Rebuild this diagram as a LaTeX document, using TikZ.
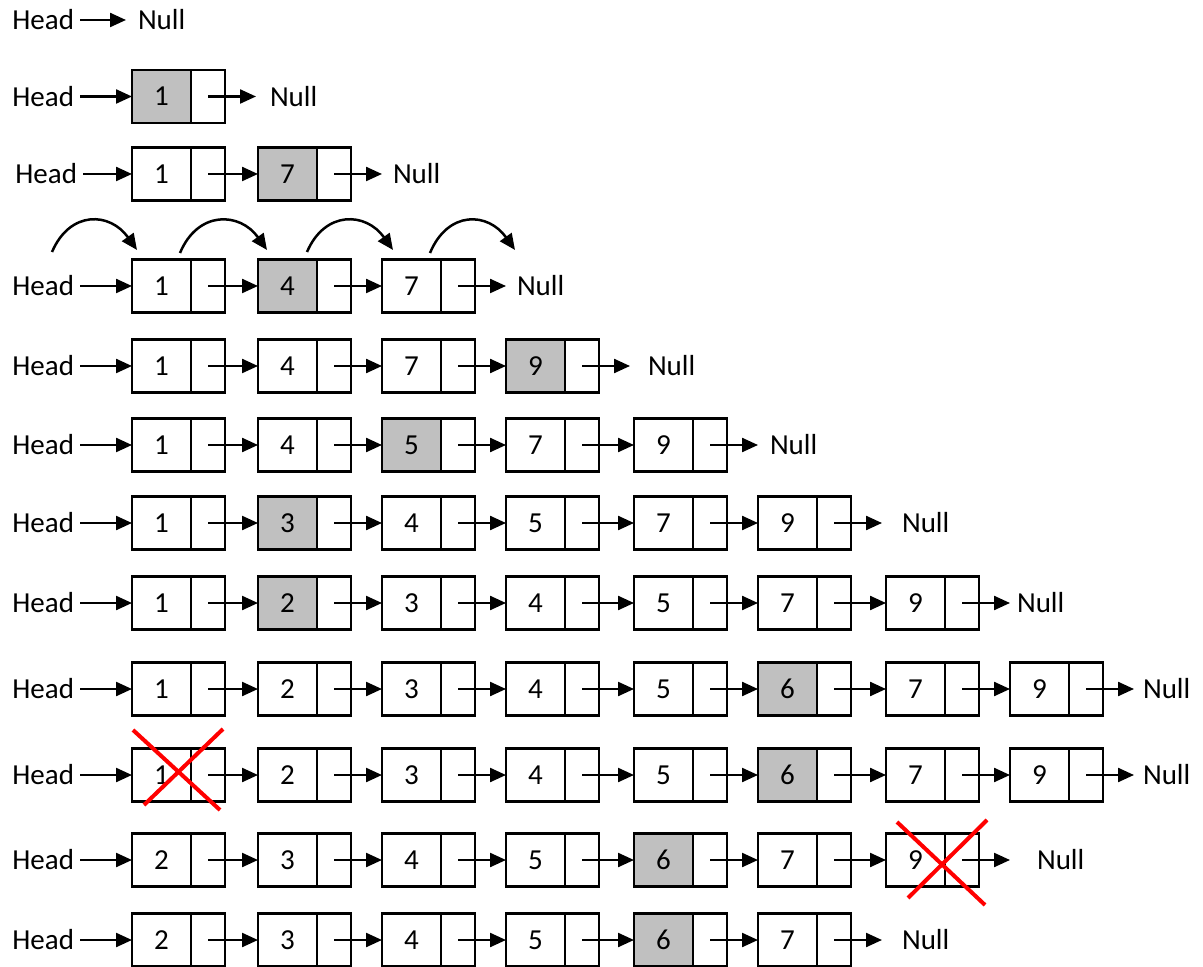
\documentclass[tikz,border=0pt]{standalone}
\usepackage{fontspec}
\setmainfont{Carlito}
\usetikzlibrary{arrows.meta,calc}
\definecolor{cellgray}{RGB}{192,192,192}
\tikzset{
  dcell/.style={draw, line width=1.3pt, minimum width=29.5pt, minimum height=26.5pt, inner sep=0pt, outer sep=0pt, anchor=west},
  pcell/.style={draw, line width=1.3pt, minimum width=17pt, minimum height=26.5pt, inner sep=0pt, outer sep=0pt, anchor=west},
  hl/.style={fill=cellgray},
  pl/.style={},
  ptr/.style={line width=1.15pt, -{Triangle[length=8pt,width=7pt]}},
  headlbl/.style={inner xsep=3pt, inner ysep=0pt, outer sep=0pt, anchor=east},
  nulllbl/.style={inner sep=0pt, outer sep=0pt, anchor=west},
  hop/.style={line width=1.25pt, -{Triangle[length=8pt,width=7pt]}},
  xmark/.style={draw=red, line width=2pt},
}
\newcommand\LLRow[5]{%
  \node[headlbl] (#1-h) at (#5,#2) {Head};
  \foreach \v/\x/\s [count=\i] in {#3} {
    \node[dcell,\s] (#1-\i-d) at (\x,#2) {\v};
    \node[pcell] (#1-\i-p) at (#1-\i-d.east) {};
    \ifnum\i=1
      \draw[ptr] (#1-h) -- (#1-\i-d.west);
    \else
      \pgfmathtruncatemacro\j{\i-1}
      \draw[ptr] (#1-\j-p.center) -- (#1-\i-d.west);
    \fi
    \xdef\lastidx{\i}
  }
  \path (#1-\lastidx-p.center) ++(48,0) coordinate (#1-e);
  \draw[ptr] (#1-\lastidx-p.center) -- (#1-e);
  \node[nulllbl] (#1-n) at (#4,#2) {Null};
}
\begin{document}
\begin{tikzpicture}[x=0.5pt,y=-0.5pt,font=\fontsize{14.5}{16}\selectfont]
\useasboundingbox (0,0) rectangle (1203,967);

% row 1
\node[headlbl] (r1-h) at (80,20) {Head};
\coordinate (r1-e) at (126,20);
\draw[ptr] (r1-h) -- (r1-e);
\node[nulllbl] (r1-n) at (138,20) {Null};

\LLRow{r2}{96.5}{1/132/hl}{270}{80}
\LLRow{r3}{174}{1/132/pl,7/258/hl}{393}{83}
\LLRow{r4}{286}{1/132/pl,4/258/hl,7/382/pl}{517}{80}
\LLRow{r5}{366}{1/132/pl,4/258/pl,7/382/pl,9/506/hl}{648}{80}
\LLRow{r6}{445}{1/132/pl,4/258/pl,5/382/hl,7/506/pl,9/634/pl}{770}{80}
\LLRow{r7}{523}{1/132/pl,3/258/hl,4/382/pl,5/506/pl,7/634/pl,9/758/pl}{902}{80}
\LLRow{r8}{603}{1/132/pl,2/258/hl,3/382/pl,4/506/pl,5/634/pl,7/758/pl,9/886/pl}{1017}{80}
\LLRow{r9}{689}{1/132/pl,2/258/pl,3/382/pl,4/506/pl,5/634/pl,6/758/hl,7/886/pl,9/1010/pl}{1143}{80}
\LLRow{r10}{775}{1/132/pl,2/258/pl,3/382/pl,4/506/pl,5/634/pl,6/758/hl,7/886/pl,9/1010/pl}{1143}{80}
\LLRow{r11}{860}{2/132/pl,3/258/pl,4/382/pl,5/506/pl,6/634/hl,7/758/pl,9/886/pl}{1037}{80}
\LLRow{r12}{940}{2/132/pl,3/258/pl,4/382/pl,5/506/pl,6/634/hl,7/758/pl}{902}{80}

% hop arrows above row 4
\draw[hop] (52,252) .. controls (70,210) and (110,212) .. (137,250);
\draw[hop] (180,253) .. controls (198,210) and (240,212) .. (267,250);
\draw[hop] (307,252) .. controls (325,210) and (366,212) .. (393,250);
\draw[hop] (430,253) .. controls (448,210) and (488,212) .. (515,250);

% red crosses
\draw[xmark] (133,730) -- (220,810);
\draw[xmark] (223,729) -- (144,805);
\draw[xmark] (897,822) -- (985,905);
\draw[xmark] (987,820) -- (908,898);
\end{tikzpicture}
\end{document}
